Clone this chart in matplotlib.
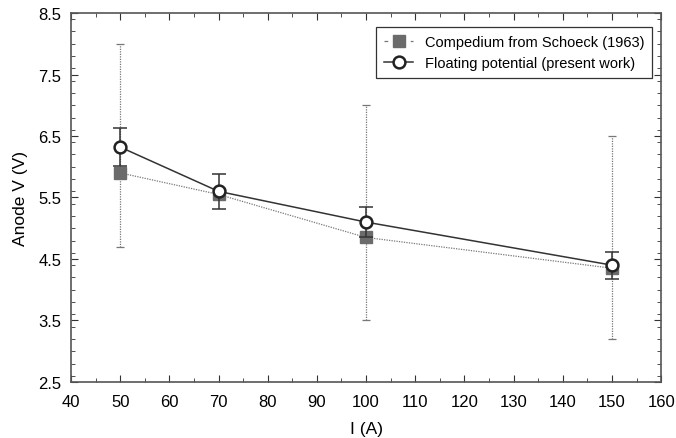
import numpy as np
import matplotlib
matplotlib.use('Agg')
import matplotlib.pyplot as plt
from matplotlib.ticker import MultipleLocator

plt.rcParams['font.family'] = ['Liberation Sans', 'DejaVu Sans']

#--data
current = [50, 70, 100, 150]
schoeck = [5.9, 5.55, 4.85, 4.35]
schoeck_lo = [4.7, 5.55, 3.5, 3.2]
schoeck_hi = [8.0, 5.55, 7.0, 6.5]
floating = [6.32, 5.6, 5.1, 4.4]
floating_err = [0.31, 0.28, 0.25, 0.22]

fig = plt.figure(figsize=(6.76, 4.39), dpi=100)
ax = fig.add_axes([0.105, 0.1276, 0.873, 0.8405])

x = np.array(current)
y1 = np.array(schoeck)
lo = y1 - np.array(schoeck_lo)
hi = np.array(schoeck_hi) - y1

#--Schoeck compendium
eb = ax.errorbar(x, y1, yerr=[lo, hi], fmt='none', ecolor='#777777', elinewidth=0.9,
                 capsize=3, capthick=0.9, zorder=2)
for c in eb[2]:
    c.set_linestyle((0, (1, 1)))
ax.plot(x, y1, color='#777777', lw=0.9, ls=(0, (1, 1)), zorder=2)
ax.plot(x, y1, ls='none', marker='s', ms=8, mfc='#6b6b6b', mec='#6b6b6b', zorder=3)
h1, = ax.plot([], [], color='#777777', lw=0.9, ls=(0, (3, 4)), marker='s', ms=8,
              mfc='#6b6b6b', mec='#6b6b6b')

#--floating potential
ax.errorbar(x, floating, yerr=floating_err, fmt='none', ecolor='#333333', elinewidth=1.1,
            capsize=5, capthick=1.1, zorder=4)
h2, = ax.plot(x, floating, color='#333333', lw=1.1, marker='o', ms=8.5, mfc='white',
              mec='#222222', mew=1.8, zorder=5)

ax.set_xlim(40, 160)
ax.set_ylim(2.5, 8.5)
ax.xaxis.set_major_locator(MultipleLocator(10))
ax.xaxis.set_minor_locator(MultipleLocator(5))
ax.set_yticks([2.5, 3.5, 4.5, 5.5, 6.5, 7.5, 8.5])
ax.yaxis.set_minor_locator(MultipleLocator(0.2))
ax.tick_params(axis='both', which='both', direction='in', top=True, right=True,
               labelsize=12, color='#333333')
ax.tick_params(axis='x', which='both', pad=9)
ax.tick_params(axis='y', which='both', pad=7)
ax.tick_params(which='major', length=5)
ax.tick_params(which='minor', length=3)
for s in ax.spines.values():
    s.set_color('#555555')
    s.set_linewidth(1.2)

ax.set_xlabel('I (A)', fontsize=12.5, labelpad=8)
ax.set_ylabel('Anode V (V)', fontsize=12.5, labelpad=7)

leg = ax.legend([h1, h2], ['Compedium from Schoeck (1963)', 'Floating potential (present work)'],
                loc='upper right', bbox_to_anchor=(0.985, 0.962), borderaxespad=0,
                fontsize=10.5, fancybox=False, edgecolor='#333333', framealpha=1,
                handlelength=2.0, borderpad=0.55, labelspacing=0.5)
leg.get_frame().set_linewidth(0.9)

fig.savefig('out.png', dpi=100)
